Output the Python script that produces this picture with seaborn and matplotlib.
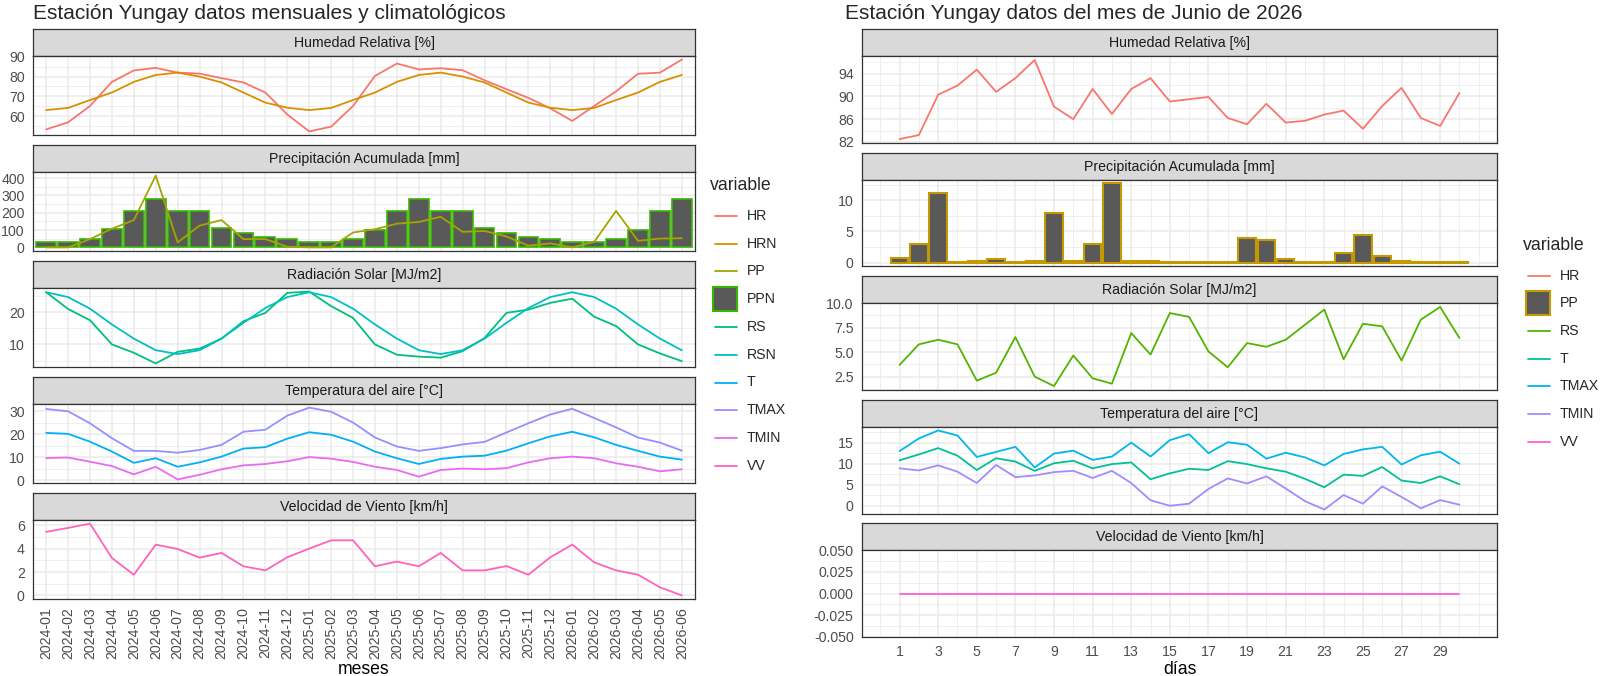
import numpy as np
import pandas as pd
import matplotlib
matplotlib.use('Agg')
import matplotlib.pyplot as plt
from matplotlib.lines import Line2D
from matplotlib.patches import Rectangle
import seaborn as sns

sns.set_style("whitegrid")
plt.rcParams['font.family'] = ['Liberation Sans', 'DejaVu Sans']

# ---- monthly data (left) ----
meses = ['2024-01', '2024-02', '2024-03', '2024-04', '2024-05', '2024-06',
         '2024-07', '2024-08', '2024-09', '2024-10', '2024-11', '2024-12',
         '2025-01', '2025-02', '2025-03', '2025-04', '2025-05', '2025-06',
         '2025-07', '2025-08', '2025-09', '2025-10', '2025-11', '2025-12',
         '2026-01', '2026-02', '2026-03', '2026-04', '2026-05', '2026-06']
hr_m = [53.2, 56.8, 65.1, 77.3, 83.1, 84.4, 82.0, 81.5, 79.2, 77.0, 71.9, 60.8,
        52.2, 54.6, 65.1, 80.3, 86.6, 83.6, 84.2, 83.2, 78.1, 73.6, 69.2, 63.9,
        57.5, 65.1, 72.5, 81.4, 82.0, 88.6]
hrn_m = [63.0, 64.1, 68.1, 71.9, 77.3, 80.8, 82.0, 80.0, 77.0, 71.9, 66.8, 64.2,
         63.0, 64.1, 68.1, 71.9, 77.3, 80.8, 82.0, 80.0, 77.0, 71.9, 66.8, 64.2,
         63.0, 64.1, 68.1, 71.9, 77.3, 80.8]
pp_m = [0, 0, 48, 108, 158, 415, 29, 126, 158, 48, 48, 4,
        0, 0, 86, 105, 137, 147, 177, 90, 95, 63, 10, 23,
        0, 32, 211, 38, 51, 53]
ppn_m = [32, 32, 48, 105, 211, 280, 211, 211, 112, 86, 59, 48,
         32, 32, 48, 100, 211, 280, 211, 211, 112, 86, 59, 48,
         32, 32, 48, 100, 211, 280]
rs_m = [26.2, 21.0, 17.5, 10.0, 7.4, 4.1, 7.7, 8.7, 11.8, 17.2, 19.8, 26.0,
        26.4, 21.9, 18.2, 10.0, 6.8, 6.2, 5.9, 7.9, 12.0, 19.8, 20.8, 22.9,
        24.2, 18.6, 15.7, 10.0, 7.2, 4.8]
rsn_m = [26.2, 24.7, 21.1, 16.2, 11.8, 8.2, 7.0, 8.2, 11.8, 16.7, 21.3, 24.7,
         26.2, 24.7, 21.1, 16.2, 11.8, 8.2, 7.0, 8.2, 11.8, 16.7, 21.3, 24.7,
         26.2, 24.7, 21.1, 16.2, 11.8, 8.2]
tmax_m = [30.9, 29.9, 24.7, 18.2, 12.7, 12.7, 11.9, 13.1, 15.3, 21.0, 21.9, 28.0,
          31.5, 29.7, 25.0, 18.5, 14.6, 12.7, 13.9, 15.5, 16.6, 20.7, 24.7, 28.5,
          31.0, 27.0, 22.9, 18.5, 16.3, 12.8]
t_m = [20.5, 20.1, 16.7, 12.4, 7.5, 9.5, 5.8, 7.7, 10.2, 13.7, 14.3, 18.0,
       20.8, 19.7, 16.7, 12.4, 9.5, 7.0, 9.2, 10.2, 10.6, 12.8, 16.0, 19.0,
       21.0, 18.6, 15.3, 12.7, 10.2, 8.9]
tmin_m = [9.6, 9.8, 8.0, 6.1, 2.5, 5.8, 0.3, 2.3, 4.7, 6.4, 7.0, 8.2,
          10.0, 9.3, 7.9, 5.8, 4.4, 1.5, 4.4, 5.0, 4.7, 5.2, 7.7, 9.5,
          10.2, 9.5, 7.3, 5.8, 3.8, 4.7]
vv_m = [5.43, 5.77, 6.14, 3.2, 1.77, 4.34, 3.97, 3.23, 3.63, 2.49, 2.14, 3.26,
        4.0, 4.71, 4.71, 2.49, 2.89, 2.49, 3.63, 2.14, 2.14, 2.51, 1.77, 3.26,
        4.34, 2.83, 2.14, 1.77, 0.69, 0.0]

# ---- daily data (right) ----
dias = list(range(1, 31))
hr_d = [82.5, 83.2, 90.3, 91.9, 94.7, 90.8, 93.2, 96.4, 88.2, 86.0,
        91.3, 86.9, 91.3, 93.2, 89.1, 89.5, 89.9, 86.2, 85.1, 88.7,
        85.4, 85.7, 86.8, 87.5, 84.3, 88.3, 91.5, 86.2, 84.8, 90.6]
pp_d = [0.8, 3.0, 11.1, 0.1, 0.2, 0.5, 0.15, 0.2, 7.9, 0.2,
        3.0, 12.7, 0.2, 0.2, 0.05, 0.1, 0.1, 0.05, 3.9, 3.7,
        0.6, 0.1, 0.1, 1.5, 4.5, 1.0, 0.2, 0.1, 0.1, 0.05]
rs_d = [3.7, 5.8, 6.27, 5.8, 2.09, 2.9, 6.54, 2.5, 1.54, 4.66,
        2.33, 1.78, 6.95, 4.76, 9.0, 8.6, 5.07, 3.46, 5.93, 5.55,
        6.27, 7.8, 9.35, 4.28, 7.9, 7.64, 4.15, 8.32, 9.62, 6.44]
tmax_d = [13.0, 16.0, 17.9, 16.7, 11.6, 12.8, 14.0, 9.1, 12.4, 13.1,
          10.9, 11.7, 15.0, 11.7, 15.6, 17.0, 12.5, 15.1, 14.5, 11.2,
          12.6, 11.5, 9.6, 12.3, 13.4, 14.0, 9.8, 12.0, 12.85, 10.0]
t_d = [10.8, 12.2, 13.7, 11.9, 8.5, 11.3, 10.5, 8.3, 10.1, 10.7,
       8.9, 9.9, 10.3, 6.3, 7.7, 8.8, 8.5, 10.6, 9.9, 8.9,
       8.1, 6.4, 4.4, 7.4, 7.1, 9.2, 6.0, 5.4, 7.0, 5.1]
tmin_d = [8.9, 8.4, 9.6, 8.1, 5.4, 9.7, 6.8, 7.2, 8.0, 8.3,
          6.6, 8.3, 5.4, 1.3, 0.0, 0.5, 4.0, 6.5, 5.3, 7.0,
          4.1, 1.1, -0.9, 2.55, 0.5, 4.6, 2.1, -0.6, 1.35, 0.25]
vv_d = [0.0] * 30

pal_m = {'HR': '#F8766D', 'HRN': '#D89000', 'PP': '#A3A500', 'PPN': '#39B600',
         'RS': '#00BF7D', 'RSN': '#00BFC4', 'T': '#00B0F6', 'TMAX': '#9590FF',
         'TMIN': '#E76BF3', 'VV': '#FF62BC'}
pal_d = {'HR': '#F8766D', 'PP': '#C49A00', 'RS': '#53B400', 'T': '#00C094',
         'TMAX': '#00B6EB', 'TMIN': '#A58AFF', 'VV': '#FB61D7'}

mdf = pd.DataFrame({'x': range(len(meses)), 'HR': hr_m, 'HRN': hrn_m, 'PP': pp_m,
                    'PPN': ppn_m, 'RS': rs_m, 'RSN': rsn_m, 'T': t_m,
                    'TMAX': tmax_m, 'TMIN': tmin_m, 'VV': vv_m})
ddf = pd.DataFrame({'x': dias, 'HR': hr_d, 'PP': pp_d, 'RS': rs_d, 'T': t_d,
                    'TMAX': tmax_d, 'TMIN': tmin_d, 'VV': vv_d})

W, H = 1600, 676
fig = plt.figure(figsize=(W / 100, H / 100), dpi=100)
LW = 1.3
GREY20, GREY30 = '#333333', '#4D4D4D'


def box(x0, y0, w, h):
    return [x0 / W, 1 - (y0 + h) / H, w / W, h / H]


def facet(x0, x1, top, strip_h, panel_h, label):
    sax = fig.add_axes(box(x0, top, x1 - x0, strip_h))
    sax.set_facecolor('#D9D9D9')
    sax.set_xticks([]); sax.set_yticks([]); sax.grid(False)
    for s in sax.spines.values():
        s.set_color(GREY20); s.set_linewidth(0.9)
    sax.text(0.5, 0.48, label, ha='center', va='center', fontsize=10.2,
             color='#1A1A1A', transform=sax.transAxes)
    ax = fig.add_axes(box(x0, top + strip_h, x1 - x0, panel_h))
    ax.set_facecolor('white')
    for s in ax.spines.values():
        s.set_color(GREY20); s.set_linewidth(0.9)
    return ax


def style(ax, yt, ymt, ylabels=None, bottom=False):
    ax.set_yticks(yt)
    if ylabels is not None:
        ax.set_yticklabels(ylabels)
    ax.set_yticks(ymt, minor=True)
    ax.grid(True, which='major', color='#EBEBEB', lw=1.1)
    ax.grid(True, which='minor', color='#EBEBEB', lw=0.55)
    ax.set_axisbelow(True)
    ax.tick_params(which='minor', length=0)
    ax.tick_params(which='major', length=4, width=0.9, color=GREY20,
                   labelsize=10.2, labelcolor=GREY30, pad=2)
    if not bottom:
        ax.tick_params(axis='x', which='both', length=0, labelbottom=False)
    ax.set_xlabel('')
    ax.set_ylabel('')


def lims(ax, vals, zero=False):
    v = np.concatenate([np.asarray(a, dtype=float) for a in vals])
    lo, hi = v.min(), v.max()
    if zero:
        lo = min(lo, 0)
    pad = 0.05 * (hi - lo)
    ax.set_ylim(lo - pad, hi + pad)


def lines(ax, df, cols, pal):
    long = df.melt(id_vars='x', value_vars=cols, var_name='variable', value_name='valor')
    sns.lineplot(data=long, x='x', y='valor', hue='variable', palette=pal,
                 ax=ax, legend=False, linewidth=LW, sort=False)


# ===== left column =====
LX0, LX1 = 33, 695
ltops = [29 + 116 * k for k in range(5)]
titles = ['Humedad Relativa [%]', 'Precipitación Acumulada [mm]',
          'Radiación Solar [MJ/m2]', 'Temperatura del aire [°C]',
          'Velocidad de Viento [km/h]']
laxes = [facet(LX0, LX1, t, 27, 79, lab) for t, lab in zip(ltops, titles)]
xm = (-0.6, len(meses) - 0.4)

ax = laxes[0]
lines(ax, mdf, ['HR', 'HRN'], pal_m)
lims(ax, [hr_m, hrn_m])
style(ax, [60, 70, 80, 90], [55, 65, 75, 85])

ax = laxes[1]
sns.barplot(data=mdf, x='x', y='PPN', native_scale=True, width=0.9, color='#595959',
            saturation=1, edgecolor=pal_m['PPN'], linewidth=1.2, errorbar=None, ax=ax)
lines(ax, mdf, ['PP'], pal_m)
lims(ax, [pp_m, ppn_m], zero=True)
style(ax, [0, 100, 200, 300, 400], [50, 150, 250, 350])

ax = laxes[2]
lines(ax, mdf, ['RS', 'RSN'], pal_m)
lims(ax, [rs_m, rsn_m])
style(ax, [10, 20], [5, 15, 25])

ax = laxes[3]
lines(ax, mdf, ['T', 'TMAX', 'TMIN'], pal_m)
lims(ax, [t_m, tmax_m, tmin_m])
style(ax, [0, 10, 20, 30], [5, 15, 25])

ax = laxes[4]
lines(ax, mdf, ['VV'], pal_m)
lims(ax, [vv_m])
style(ax, [0, 2, 4, 6], [1, 3, 5], bottom=True)

for ax in laxes:
    ax.set_xlim(*xm)
    ax.set_xticks(range(len(meses)))
    ax.xaxis.set_minor_locator(matplotlib.ticker.NullLocator())
laxes[4].set_xticklabels(meses, rotation=90, ha='center', va='top')
laxes[4].set_xlabel('meses', fontsize=12.7, color='black', labelpad=1)

# ===== right column =====
RX0, RX1 = 862, 1497
rtops = [29 + 123.5 * k for k in range(5)]
raxes = [facet(RX0, RX1, t, 27, 87, lab) for t, lab in zip(rtops, titles)]

ax = raxes[0]
lines(ax, ddf, ['HR'], pal_d)
lims(ax, [hr_d])
style(ax, [82, 86, 90, 94], [84, 88, 92, 96])

ax = raxes[1]
sns.barplot(data=ddf, x='x', y='PP', native_scale=True, width=0.9, color='#595959',
            saturation=1, edgecolor=pal_d['PP'], linewidth=1.5, errorbar=None, ax=ax)
lims(ax, [pp_d], zero=True)
style(ax, [0, 5, 10], [2.5, 7.5, 12.5])

ax = raxes[2]
lines(ax, ddf, ['RS'], pal_d)
lims(ax, [rs_d])
style(ax, [2.5, 5, 7.5, 10], [1.25, 3.75, 6.25, 8.75], ['2.5', '5.0', '7.5', '10.0'])

ax = raxes[3]
lines(ax, ddf, ['T', 'TMAX', 'TMIN'], pal_d)
lims(ax, [t_d, tmax_d, tmin_d])
style(ax, [0, 5, 10, 15], [2.5, 7.5, 12.5, 17.5])

ax = raxes[4]
lines(ax, ddf, ['VV'], pal_d)
ax.set_ylim(-0.05, 0.05)
style(ax, [-0.05, -0.025, 0, 0.025, 0.05], [-0.0375, -0.0125, 0.0125, 0.0375],
      ['-0.050', '-0.025', '0.000', '0.025', '0.050'], bottom=True)

for ax in raxes:
    ax.set_xlim(0.55 - 1.495, 30.45 + 1.495)
    ax.set_xticks(dias[::2])
    ax.set_xticks([0] + dias[1::2] + [31], minor=True)
raxes[4].set_xticklabels([str(d) for d in dias[::2]])
raxes[4].set_xlabel('días', fontsize=12.7, color='black', labelpad=1)

# ===== titles =====
fig.text(LX0 / W, 1 - 19 / H, 'Estación Yungay datos mensuales y climatológicos',
         fontsize=15, va='baseline', ha='left')
fig.text(845 / W, 1 - 19 / H, 'Estación Yungay datos del mes de Junio de 2026',
         fontsize=15, va='baseline', ha='left')


# ===== legends =====
def legend(x, ytitle, y0, step, pal, fill_key):
    fig.text(x / W, 1 - ytitle / H, 'variable', fontsize=12.7, va='center', ha='left')
    for i, (name, col) in enumerate(pal.items()):
        y = y0 + i * step
        if name == fill_key:
            fig.add_artist(Rectangle(((x + 3) / W, 1 - (y + 12) / H), 24 / W, 24 / H,
                                     transform=fig.transFigure, facecolor='#595959',
                                     edgecolor=col, linewidth=1.5))
        else:
            fig.add_artist(Line2D([(x + 5) / W, (x + 27) / W], [1 - y / H, 1 - y / H],
                                  transform=fig.transFigure, color=col, linewidth=LW))
        fig.text((x + 37) / W, 1 - y / H, name, fontsize=10.2, va='center', ha='left')


legend(710, 185, 215.7, 27.8, pal_m, 'PPN')
legend(1523, 245, 275.7, 27.7, pal_d, 'PP')

fig.savefig('out.png', dpi=100)
